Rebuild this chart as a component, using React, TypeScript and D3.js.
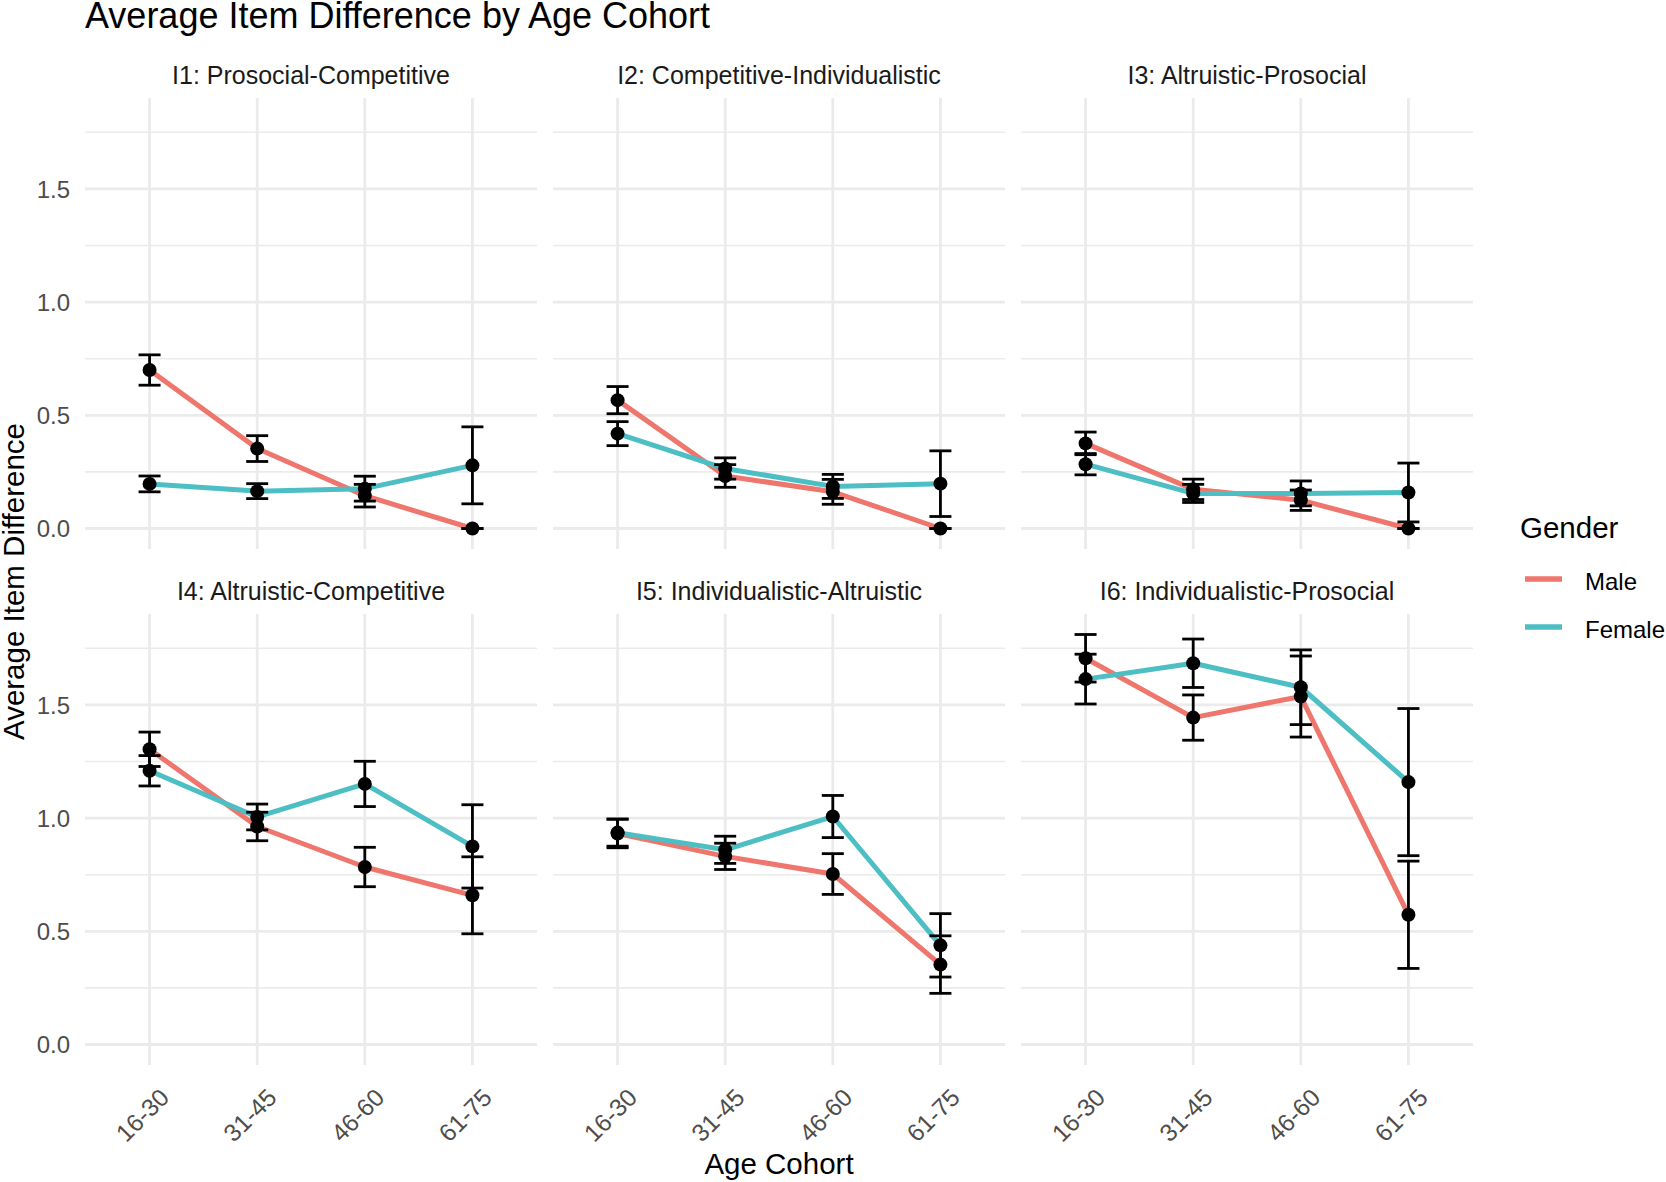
import { useRef, useEffect } from 'react';
import * as d3 from 'd3';

// Age cohorts (x categories) and facet titles
const COHORTS = ['16-30', '31-45', '46-60', '61-75'];
const ITEMS = [
  'I1: Prosocial-Competitive',
  'I2: Competitive-Individualistic',
  'I3: Altruistic-Prosocial',
  'I4: Altruistic-Competitive',
  'I5: Individualistic-Altruistic',
  'I6: Individualistic-Prosocial',
];
const GENDERS = ['Male', 'Female'];
const GENDER_COLORS = ['#EE766D', '#4DBEC4'];

// Mean item difference per item, one row per facet, one value per cohort
const MALE_MEAN = [
  [0.70, 0.353, 0.145, 0.0],
  [0.567, 0.232, 0.162, 0.0],
  [0.376, 0.173, 0.125, 0.0],
  [1.304, 0.963, 0.784, 0.659],
  [0.932, 0.831, 0.753, 0.353],
  [1.706, 1.444, 1.537, 0.573],
];
const MALE_ERR = [
  [0.067, 0.057, 0.05, 0.0],
  [0.06, 0.05, 0.055, 0.0],
  [0.05, 0.045, 0.045, 0.0],
  [0.076, 0.063, 0.087, 0.17],
  [0.063, 0.058, 0.09, 0.127],
  [0.105, 0.1, 0.179, 0.237],
];
const FEMALE_MEAN = [
  [0.197, 0.165, 0.176, 0.279],
  [0.419, 0.265, 0.186, 0.198],
  [0.284, 0.155, 0.155, 0.159],
  [1.209, 1.005, 1.151, 0.875],
  [0.936, 0.86, 1.007, 0.438],
  [1.614, 1.684, 1.578, 1.159],
];
const FEMALE_ERR = [
  [0.035, 0.033, 0.055, 0.17],
  [0.053, 0.047, 0.053, 0.145],
  [0.047, 0.04, 0.055, 0.13],
  [0.067, 0.057, 0.1, 0.184],
  [0.06, 0.06, 0.093, 0.14],
  [0.11, 0.107, 0.165, 0.325],
];

const Y_TICKS = [0, 0.5, 1.0, 1.5];
const Y_MINOR = [0.25, 0.75, 1.25, 1.75];

const FONT = 'Liberation Sans, Arial, Helvetica, sans-serif';

export default function App() {
  const ref = useRef<SVGSVGElement>(null);

  useEffect(() => {
    document.body.style.margin = '0';
    const svg = ref.current;
    if (!svg) return;
    const W = 1666, H = 1182;
    const panelL = 85, panelW = 452, gapX = 16;
    const panelT = 98, panelH = 451, rowStep = 516;

    d3.select(svg).selectAll('*').remove();
    const root = d3.select(svg).attr('width', W).attr('height', H).attr('viewBox', `0 0 ${W} ${H}`);
    root.append('rect').attr('width', W).attr('height', H).attr('fill', '#ffffff');

    const means = [MALE_MEAN, FEMALE_MEAN];
    const errs = [MALE_ERR, FEMALE_ERR];

    // shared y domain from error bar extents, 5% expansion like ggplot
    const lows: number[] = [], highs: number[] = [];
    means.forEach((m, gi) => m.forEach((row, i) => row.forEach((v, j) => {
      lows.push(v - errs[gi][i][j]);
      highs.push(v + errs[gi][i][j]);
    })));
    const lo = Math.min(0, d3.min(lows)!), hi = d3.max(highs)!;
    const pad = (hi - lo) * 0.05;

    const x = d3.scalePoint<string>().domain(COHORTS).range([0, panelW]).padding(0.6);
    const y = d3.scaleLinear().domain([lo - pad, hi + pad]).range([panelH, 0]);

    ITEMS.forEach((item, i) => {
      const col = i % 3, row = Math.floor(i / 3);
      const g = root.append('g')
        .attr('transform', `translate(${panelL + col * (panelW + gapX)},${panelT + row * rowStep})`);

      // grid
      Y_MINOR.forEach((v) => {
        g.append('line').attr('x1', 0).attr('x2', panelW).attr('y1', y(v)).attr('y2', y(v))
          .attr('stroke', '#EBEBEB').attr('stroke-width', 1.6);
      });
      Y_TICKS.forEach((v) => {
        g.append('line').attr('x1', 0).attr('x2', panelW).attr('y1', y(v)).attr('y2', y(v))
          .attr('stroke', '#EBEBEB').attr('stroke-width', 2.8);
      });
      COHORTS.forEach((c) => {
        g.append('line').attr('x1', x(c)!).attr('x2', x(c)!).attr('y1', 0).attr('y2', panelH)
          .attr('stroke', '#EBEBEB').attr('stroke-width', 2.8);
      });

      // strip title
      g.append('text').attr('x', panelW / 2).attr('y', -14)
        .attr('text-anchor', 'middle').attr('font-size', 25).attr('fill', '#1A1A1A')
        .text(item);

      // lines
      GENDERS.forEach((_, gi) => {
        const line = d3.line<number>()
          .x((_, j) => x(COHORTS[j])!)
          .y((d) => y(d));
        g.append('path').datum(means[gi][i]).attr('d', line)
          .attr('fill', 'none').attr('stroke', GENDER_COLORS[gi]).attr('stroke-width', 5)
          .attr('stroke-linejoin', 'round');
      });

      // points
      GENDERS.forEach((_, gi) => {
        means[gi][i].forEach((v, j) => {
          g.append('circle').attr('cx', x(COHORTS[j])!).attr('cy', y(v)).attr('r', 7).attr('fill', '#000');
        });
      });

      // error bars
      GENDERS.forEach((_, gi) => {
        means[gi][i].forEach((v, j) => {
          const e = errs[gi][i][j];
          const cx = x(COHORTS[j])!;
          const y1 = y(v + e), y2 = y(v - e);
          const eb = g.append('g').attr('stroke', '#000').attr('stroke-width', 2.8);
          eb.append('line').attr('x1', cx).attr('x2', cx).attr('y1', y1).attr('y2', y2);
          eb.append('line').attr('x1', cx - 11).attr('x2', cx + 11).attr('y1', y1).attr('y2', y1);
          eb.append('line').attr('x1', cx - 11).attr('x2', cx + 11).attr('y1', y2).attr('y2', y2);
        });
      });

      // y tick labels on left column
      if (col === 0) {
        Y_TICKS.forEach((v) => {
          g.append('text').attr('x', -15).attr('y', y(v)).attr('dy', '0.36em')
            .attr('text-anchor', 'end').attr('font-size', 24).attr('fill', '#4D4D4D')
            .text(v.toFixed(1));
        });
      }

      // x tick labels on bottom row
      if (row === 1) {
        COHORTS.forEach((c) => {
          const tx = x(c)! + 21, ty = panelH + 34;
          g.append('text').attr('transform', `translate(${tx},${ty}) rotate(-45)`)
            .attr('text-anchor', 'end').attr('font-size', 24.5).attr('fill', '#4D4D4D')
            .text(c);
        });
      }
    });

    // title and axis titles
    root.append('text').attr('x', 85).attr('y', 28).attr('font-size', 36).attr('fill', '#000')
      .text('Average Item Difference by Age Cohort');
    const plotRight = panelL + 3 * panelW + 2 * gapX;
    root.append('text').attr('x', (panelL + plotRight) / 2).attr('y', 1174)
      .attr('text-anchor', 'middle').attr('font-size', 29.5).attr('fill', '#000')
      .text('Age Cohort');
    root.append('text').attr('transform', `translate(24,${panelT + (rowStep + panelH) / 2}) rotate(-90)`)
      .attr('text-anchor', 'middle').attr('font-size', 29.5).attr('fill', '#000')
      .text('Average Item Difference');

    // legend
    const lg = root.append('g').attr('transform', 'translate(1520,538)');
    lg.append('text').attr('x', 0).attr('y', 0).attr('font-size', 29.5).attr('fill', '#000').text('Gender');
    GENDERS.forEach((name, gi) => {
      const ly = 41 + gi * 48;
      lg.append('line').attr('x1', 5).attr('x2', 42).attr('y1', ly).attr('y2', ly)
        .attr('stroke', GENDER_COLORS[gi]).attr('stroke-width', 5.5);
      lg.append('text').attr('x', 65).attr('y', ly + 11).attr('font-size', 24).attr('fill', '#000').text(name);
    });

    root.selectAll('text').attr('font-family', FONT);
  }, []);

  return <svg ref={ref} style={{ display: 'block' }} />;
}
